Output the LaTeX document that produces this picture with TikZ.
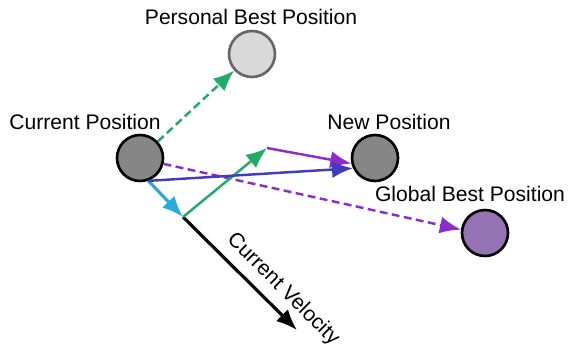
\documentclass[tikz,border=0pt]{standalone}
\usepackage{fontspec}
\setmainfont{Liberation Sans}
\usetikzlibrary{arrows.meta}
\definecolor{pbgreen}{RGB}{35,170,105}
\definecolor{gbpurple}{RGB}{140,45,200}
\definecolor{npblue}{RGB}{65,60,190}
\definecolor{velcyan}{RGB}{40,170,220}
\definecolor{gbfill}{RGB}{150,115,180}
\tikzset{
  particle/.style={circle, draw=black, line width=1.5pt, minimum size=0.92cm, inner sep=0pt},
  caption/.style={font=\fontsize{12}{14}\selectfont},
  pull/.style={->, line width=1.4pt},
  guess/.style={pull, dash pattern=on 4.5pt off 2.5pt}
}
\begin{document}
\begin{tikzpicture}[x=0.02cm, y=-0.02cm, >={Latex[length=4.2mm,width=3.4mm]}]
  \useasboundingbox (0,0) rectangle (581,352);
  % positions
  \node[particle, fill=gray!95] (cur) at (140,158) {};
  \node[particle, fill=gray!30, draw=gray!80!black] (pb) at (252,54) {};
  \node[particle, fill=gray!95] (np) at (375,158) {};
  \node[particle, fill=gbfill] (gb) at (485,233) {};
  \node[caption] (curlabel) at (85,122) {Current Position};
  \node[caption] (pblabel) at (251,17) {Personal Best Position};
  \node[caption] (nplabel) at (389,122) {New Position};
  \node[caption] (gblabel) at (470,194) {Global Best Position};
  % velocity components
  \coordinate (v) at (183,217);
  \coordinate (g) at (267,148);
  \coordinate (vend) at (297,330);
  \draw[guess, pbgreen] (cur) -- (pb);
  \draw[guess, gbpurple] (cur.-14) -- (gb.172);
  \draw[pull, velcyan, line width=1.8pt] (cur.-70) -- (v);
  \draw[pull, black, line width=1.8pt] (v) -- (vend)
    node[caption, pos=0.76, sloped, above=1pt] {Current Velocity};
  \draw[pull, pbgreen] (v) -- (g);
  \draw[pull, gbpurple] (g) -- (np.193);
  \draw[pull, npblue] (cur.-70) -- (np.205);
\end{tikzpicture}
\end{document}
